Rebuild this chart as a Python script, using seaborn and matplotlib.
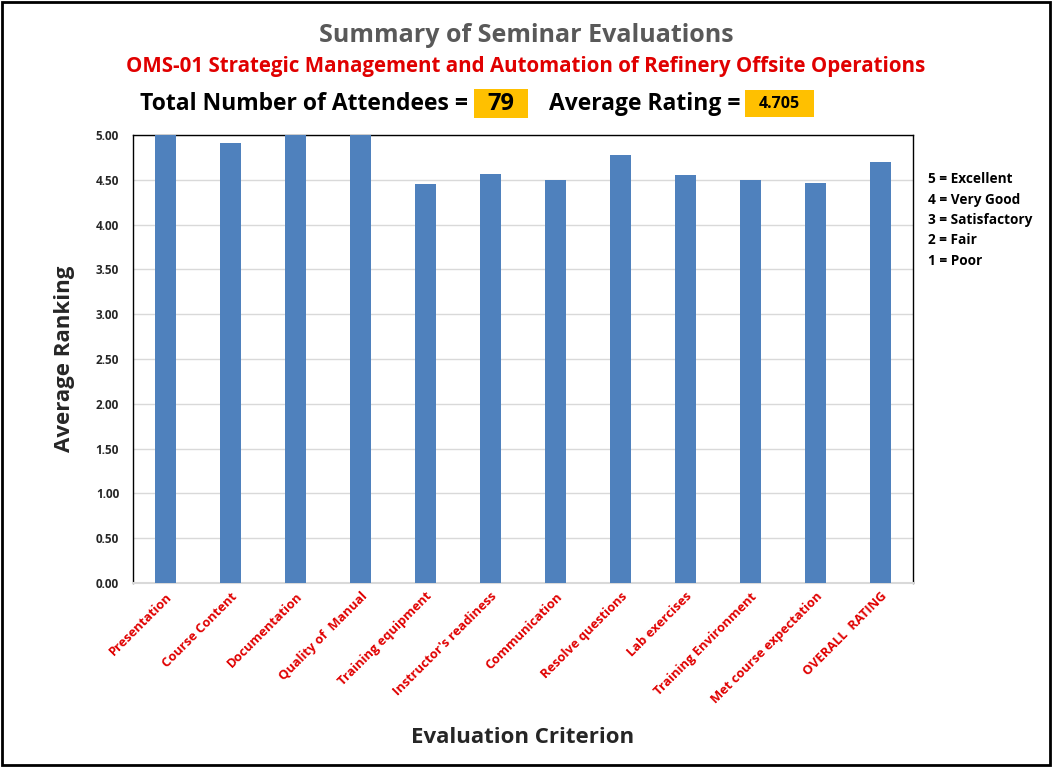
import pandas as pd
import seaborn as sns
import matplotlib.pyplot as plt
from matplotlib.patches import Rectangle

criteria = [
    "Presentation", "Course Content", "Documentation", "Quality of  Manual",
    "Training equipment", "Instructor's readiness", "Communication",
    "Resolve questions", "Lab exercises", "Training Environment",
    "Met course expectation", "OVERALL  RATING",
]
ratings = [5.00, 4.91, 5.00, 5.00, 4.45, 4.56, 4.50, 4.78, 4.55, 4.50, 4.46, 4.70]
y_ticks = [0.0, 0.5, 1.0, 1.5, 2.0, 2.5, 3.0, 3.5, 4.0, 4.5, 5.0]
scale_notes = ["5 = Excellent", "4 = Very Good", "3 = Satisfactory", "2 = Fair", "1 = Poor"]
attendees = 79
avg_rating = 4.705

sns.set_style("white")
plt.rcParams["font.family"] = ["Open Sans", "DejaVu Sans"]

df = pd.DataFrame({"criterion": criteria, "rating": ratings})

fig = plt.figure(figsize=(10.52, 7.67), dpi=100)
ax = fig.add_axes([0.1264, 0.2399, 0.7415, 0.5842])
sns.barplot(data=df, x="criterion", y="rating", color="#4F81BD", width=0.32,
            saturation=1, linewidth=0, ax=ax, zorder=3)

ax.set_ylim(0, 5)
ax.set_yticks(y_ticks)
ax.set_yticklabels([f"{t:.2f}" for t in y_ticks], fontsize=8.5, fontweight="bold")
ax.yaxis.grid(True, color="#D9D9D9", linewidth=1, zorder=0)
ax.set_axisbelow(True)
ax.tick_params(axis="y", length=0, pad=10)
ax.tick_params(axis="x", length=0, pad=5)
ax.set_xticks(range(len(criteria)))
ax.set_xticklabels(criteria, rotation=45, ha="right", rotation_mode="anchor",
                   color="#E00000", fontsize=9.3, fontweight="bold")
for s in ["top", "left", "right"]:
    ax.spines[s].set_color("black")
    ax.spines[s].set_linewidth(1)
ax.spines["bottom"].set_color("#D9D9D9")
ax.spines["bottom"].set_linewidth(1.5)

ax.set_xlabel("Evaluation Criterion", fontsize=16, fontweight="bold")
ax.xaxis.set_label_coords(0.5, -0.322)
ax.set_ylabel("Average Ranking", fontsize=16, fontweight="bold")
ax.yaxis.set_label_coords(-0.074, 0.5)

fig.text(0.5, 0.954, "Summary of Seminar Evaluations", ha="center", va="center",
         fontsize=18, fontweight="bold", color="#595959")
fig.text(0.5, 0.913, "OMS-01 Strategic Management and Automation of Refinery Offsite Operations",
         ha="center", va="center", fontsize=14.8, fontweight="bold", color="#E00000")

# highlighted value boxes
fig.patches.append(Rectangle((474 / 1052, 1 - 118 / 767), 54 / 1052, 29 / 767,
                             transform=fig.transFigure, fc="#FFC000", ec="none"))
fig.patches.append(Rectangle((745 / 1052, 1 - 117 / 767), 69 / 1052, 27 / 767,
                             transform=fig.transFigure, fc="#FFC000", ec="none"))

fig.text(0.133, 0.864, "Total Number of Attendees =", ha="left", va="center",
         fontsize=16.5, fontweight="bold", color="black")
fig.text(501 / 1052, 0.864, f"{attendees}", ha="center", va="center", fontsize=17,
         fontweight="bold", color="black")
fig.text(0.522, 0.864, "Average Rating =", ha="left", va="center",
         fontsize=16.5, fontweight="bold", color="black")
fig.text(779.5 / 1052, 0.864, f"{avg_rating}", ha="center", va="center", fontsize=11.5,
         fontweight="bold", color="black")

for i, note in enumerate(scale_notes):
    fig.text(0.882, 0.766 - i * 0.0265, note, ha="left", va="center",
             fontsize=9.8, fontweight="bold", color="black")

fig.patches.append(Rectangle((0.002, 0.003), 0.996, 0.994, transform=fig.transFigure,
                             fill=False, ec="black", lw=2))

fig.savefig("out.png", dpi=100)
